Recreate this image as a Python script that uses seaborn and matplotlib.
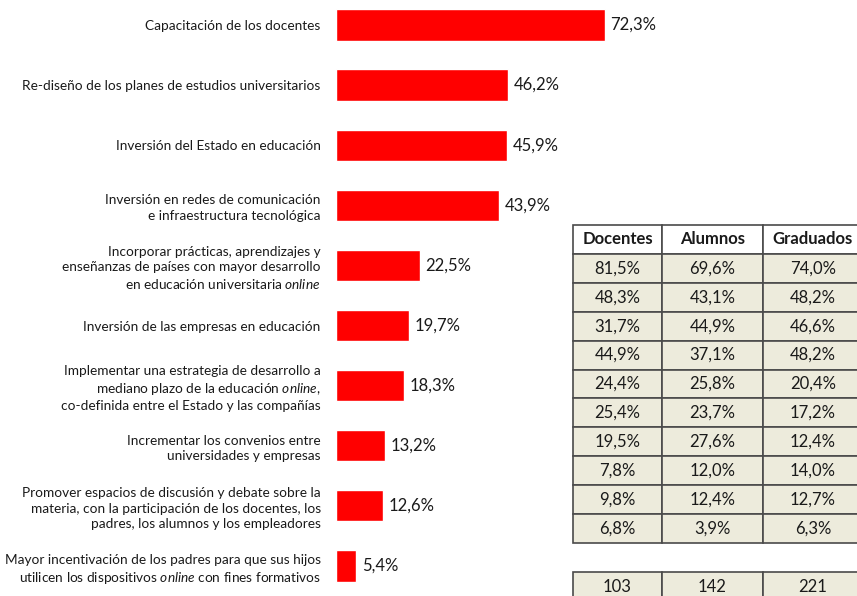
import numpy as np
import pandas as pd
import matplotlib
matplotlib.use("Agg")
import matplotlib.pyplot as plt
import seaborn as sns

# Data
acciones = [
    "Capacitación de los docentes",
    "Re-diseño de los planes de estudios universitarios",
    "Inversión del Estado en educación",
    "Inversión en redes de comunicación\ne infraestructura tecnológica",
    "Incorporar prácticas, aprendizajes y\nenseñanzas de países con mayor desarrollo\nen educación universitaria $\\mathit{online}$",
    "Inversión de las empresas en educación",
    "Implementar una estrategia de desarrollo a\nmediano plazo de la educación $\\mathit{online}$,\nco-definida entre el Estado y las compañías",
    "Incrementar los convenios entre\nuniversidades y empresas",
    "Promover espacios de discusión y debate sobre la\nmateria, con la participación de los docentes, los\npadres, los alumnos y los empleadores",
    "Mayor incentivación de los padres para que sus hijos\nutilicen los dispositivos $\\mathit{online}$ con fines formativos",
]
total = [72.3, 46.2, 45.9, 43.9, 22.5, 19.7, 18.3, 13.2, 12.6, 5.4]

grupos = ["Docentes", "Alumnos", "Graduados"]
docentes = [81.5, 48.3, 31.7, 44.9, 24.4, 25.4, 19.5, 7.8, 9.8, 6.8]
alumnos = [69.6, 43.1, 44.9, 37.1, 25.8, 23.7, 27.6, 12.0, 12.4, 3.9]
graduados = [74.0, 48.2, 46.6, 48.2, 20.4, 17.2, 12.4, 14.0, 12.7, 6.3]
n_casos = [103, 142, 221]

sns.set_theme(style="white")
plt.rcParams["font.family"] = ["Lato", "DejaVu Sans"]
plt.rcParams["mathtext.fontset"] = "custom"
plt.rcParams["mathtext.it"] = "Lato:italic"
plt.rcParams["mathtext.rm"] = "Lato"

W, H = 857, 596
fig = plt.figure(figsize=(W / 100, H / 100), dpi=100)

def fig_axes(x0, y0, x1, y1):
    return fig.add_axes([x0 / W, 1 - y1 / H, (x1 - x0) / W, (y1 - y0) / H])

def pct(v):
    return f"{v:.1f}%".replace(".", ",")

# Bar chart
ax = fig_axes(336, 0, 336 + 80 * 3.72, 596)
df = pd.DataFrame({"accion": acciones, "total": total})
sns.barplot(data=df, x="total", y="accion", color="#FF0000", saturation=1,
            width=0.52, ax=ax)
ax.set_xlim(0, 80)
ax.set_ylim(9.5, -0.416)
ax.bar_label(ax.containers[0], labels=[pct(v) for v in total], padding=4,
             fontsize=12, color="#1a1a1a")
ax.set_xlabel("")
ax.set_ylabel("")
ax.set_xticks([])
ax.tick_params(axis="y", length=0, pad=11, labelsize=9.8, labelcolor="#1a1a1a")
for lbl in ax.get_yticklabels():
    lbl.set_horizontalalignment("right")
    lbl.set_multialignment("right")
    lbl.set_linespacing(1.35)
sns.despine(ax=ax, left=True, bottom=True)

# Table by group
col_w = [89, 101, 100]
beige = "#EDEBDC"
edge = "#4a4a4a"

tax = fig_axes(573, 225, 573 + sum(col_w), 543)
tax.axis("off")
rows = [[pct(d), pct(a), pct(g)] for d, a, g in zip(docentes, alumnos, graduados)]
tbl = tax.table(cellText=rows, colLabels=grupos, bbox=[0, 0, 1, 1],
                cellLoc="center", colWidths=[w / sum(col_w) for w in col_w])
tbl.auto_set_font_size(False)
tbl.set_fontsize(12)
for (r, c), cell in tbl.get_celld().items():
    cell.set_edgecolor(edge)
    cell.set_linewidth(1.2)
    cell.get_text().set_color("#1a1a1a")
    if r == 0:
        cell.set_facecolor("white")
        cell.get_text().set_fontweight("bold")
    else:
        cell.set_facecolor(beige)

nax = fig_axes(573, 572, 573 + sum(col_w), 601)
nax.axis("off")
ntbl = nax.table(cellText=[[str(n) for n in n_casos]], bbox=[0, 0, 1, 1],
                 cellLoc="center", colWidths=[w / sum(col_w) for w in col_w])
ntbl.auto_set_font_size(False)
ntbl.set_fontsize(12)
for (r, c), cell in ntbl.get_celld().items():
    cell.set_edgecolor(edge)
    cell.set_linewidth(1.2)
    cell.set_facecolor(beige)
    cell.get_text().set_color("#1a1a1a")

fig.savefig("out.png", dpi=100)
